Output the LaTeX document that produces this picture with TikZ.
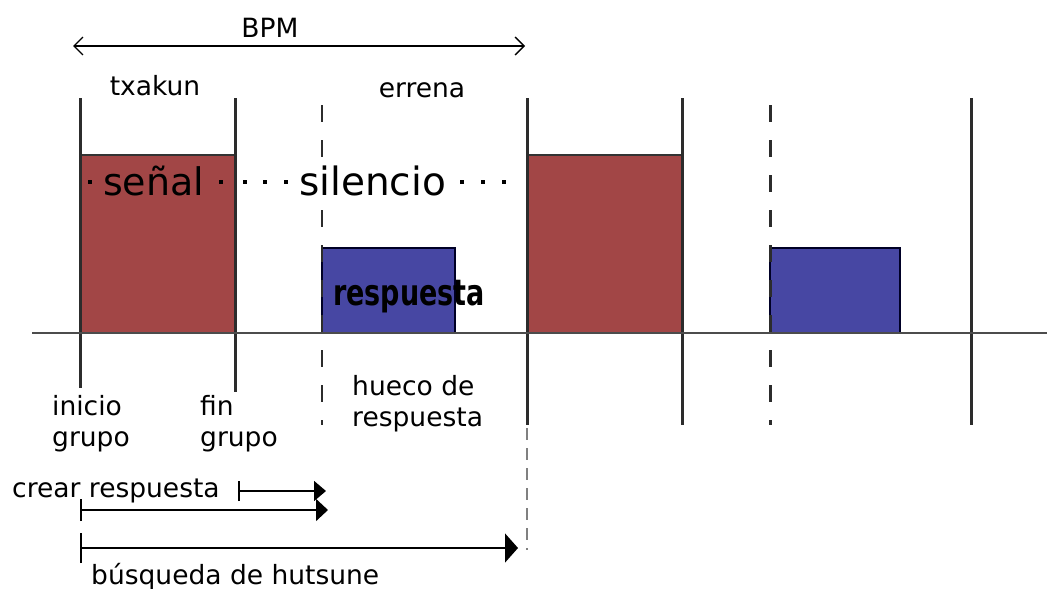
\documentclass[tikz,border=0pt]{standalone}
\usepackage{fontspec}
\setmainfont{DejaVu Sans}
\usetikzlibrary{arrows.meta}
\definecolor{sigred}{HTML}{A24646}
\definecolor{respblue}{HTML}{4747A3}
\definecolor{linegray}{HTML}{2C2C2C}
\tikzset{
  lbl/.style={inner sep=0pt, anchor=base west, font=\fontsize{26.5}{30}\selectfont},
  lblc/.style={inner sep=0pt, anchor=base, font=\fontsize{26.5}{30}\selectfont},
  bigtxt/.style={inner sep=0pt, anchor=base west, font=\fontsize{38}{40}\selectfont},
  solidbar/.style={draw=linegray, line width=3pt},
  dashbar/.style={draw=linegray, line width=3pt, dash pattern=on 17pt off 18pt},
  sigbox/.style={fill=sigred, draw=black!80, line width=1.8pt},
  respbox/.style={fill=respblue, draw=black!85!blue, line width=1.8pt},
  dotmark/.style={fill=black, inner sep=0pt, minimum size=4.5pt, draw=none, rectangle},
  timearrow/.style={line width=1.6pt, {Bar[width=20pt,line width=1.6pt]}-{Triangle[length=12pt,width=20pt]}},
}
\begin{document}
\begin{tikzpicture}[x=1pt,y=-1pt]
\useasboundingbox (0,0) rectangle (1047,589);
% boxes
\path[sigbox] (80,155) rectangle (235,333);
\path[sigbox] (527,155) rectangle (682,333);
\path[respbox] (322,248) rectangle (455,333);
\path[respbox] (770,248) rectangle (900,333);
% solid vertical bars
\draw[solidbar] (80,98) -- (80,388);
\draw[solidbar] (235,98) -- (235,392);
\draw[solidbar] (527,98) -- (527,425);
\draw[solidbar] (682,98) -- (682,425);
\draw[solidbar] (971,98) -- (971,425);
% dashed bars
\draw[dashbar, line width=2.4pt] (322,105) -- (322,425);
\draw[dashbar] (770,105) -- (770,425);
\draw[draw=gray, line width=1.4pt, dash pattern=on 12pt off 8pt] (527,428) -- (527,550);
% baseline
\draw[draw=black!70, line width=1.6pt] (32,333) -- (1047,333);
% dotted row and words
\node[dotmark] (d0) at (90,182) {};
\node[bigtxt] (senal) at (103,195) {señal};
\node[dotmark] (d1) at (221,182) {};
\node[dotmark] (d2) at (245,182) {};
\node[dotmark] (d3) at (265,182) {};
\node[dotmark] (d4) at (286,182) {};
\node[bigtxt, fill=white, font=\fontsize{39}{40}\selectfont] (silencio) at (299,195) {silencio};
\node[dotmark] (d5) at (462,182) {};
\node[dotmark] (d6) at (483,182) {};
\node[dotmark] (d7) at (504,182) {};
\node[inner sep=0pt, anchor=base west] (resp) at (333,305)
  {\scalebox{0.75}[1]{\fontsize{36}{40}\selectfont\bfseries respuesta}};
% BPM
\coordinate (bpmL) at (73,46);
\coordinate (bpmR) at (525,46);
\draw[line width=1.3pt, {Straight Barb[length=9pt,width=18pt,line width=1.3pt]}-{Straight Barb[length=9pt,width=18pt,line width=1.3pt]}] (bpmL) -- (bpmR);
\node[lblc] (bpm) at (270,37) {BPM};
\node[lblc] (txakun) at (155,95) {txakun};
\node[lblc] (errena) at (422,97) {errena};
% lower labels
\node[lbl] (inicio) at (52,415) {inicio};
\node[lbl] (grupo1) at (52,446) {grupo};
\node[lbl] (fin) at (200,415) {fin};
\node[lbl] (grupo2) at (200,446) {grupo};
\node[lbl] (hueco) at (352,395) {hueco de};
\node[lbl] (respu) at (352,426) {respuesta};
\node[lbl] (crear) at (12,497) {crear respuesta};
\node[lbl] (busq) at (91,584) {búsqueda de hutsune};
% timing arrows
\coordinate (a1s) at (238,491);
\coordinate (a1e) at (326,491);
\coordinate (a2s) at (80,510);
\coordinate (a2e) at (328,510);
\coordinate (a3s) at (80,548);
\coordinate (a3e) at (518,548);
\draw[timearrow] (a1s) -- (a1e);
\draw[line width=1.6pt, {Bar[width=22pt,line width=1.6pt]}-{Triangle[length=12pt,width=22pt]}] (a2s) -- (a2e);
\draw[line width=1.6pt, {Bar[width=30pt,line width=1.6pt]}-{Triangle[length=13pt,width=29pt]}] (a3s) -- (a3e);
\end{tikzpicture}
\end{document}
